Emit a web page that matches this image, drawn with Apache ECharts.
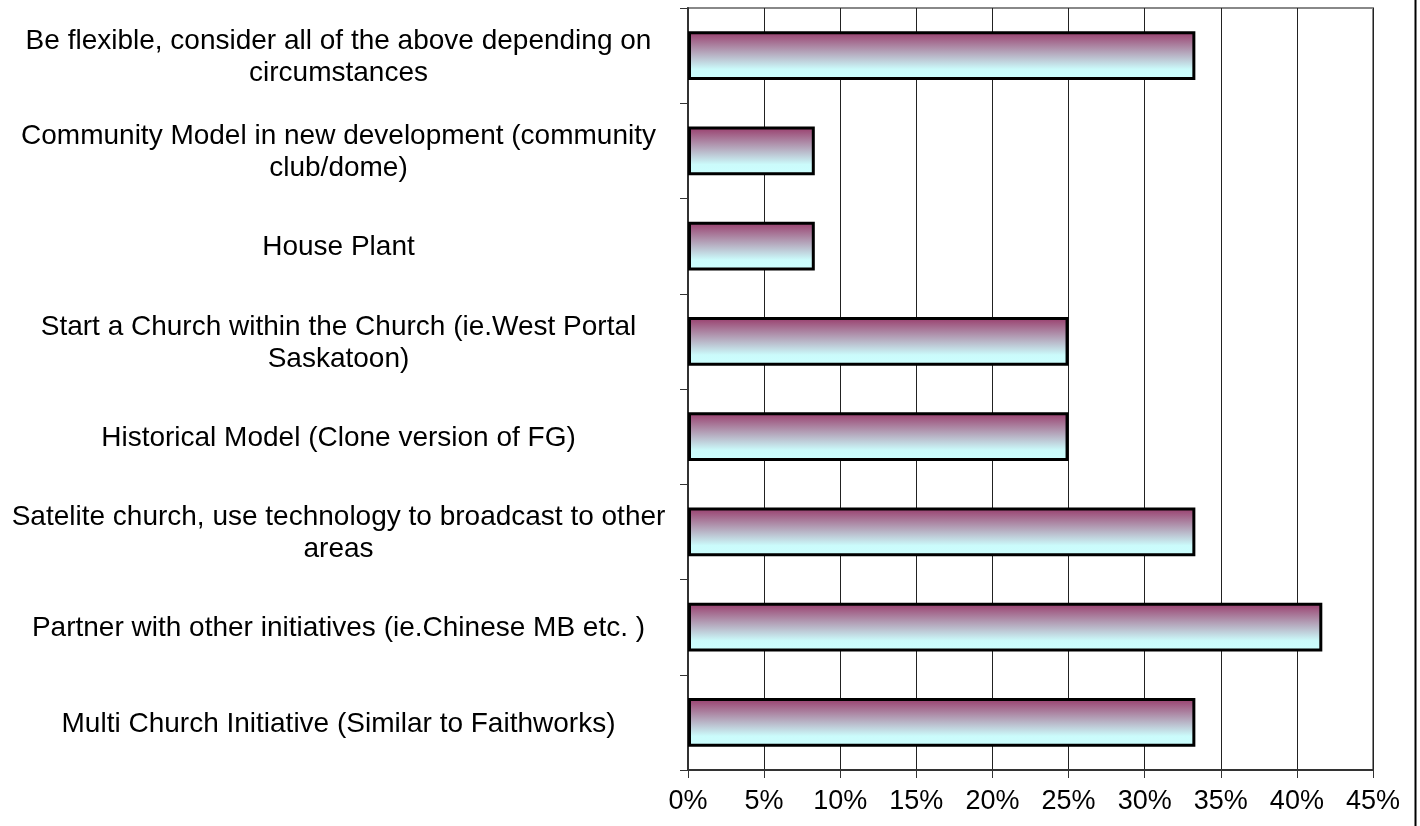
<!DOCTYPE html>
<html>
<head>
<meta charset="utf-8">
<script src="https://cdn.jsdelivr.net/npm/echarts@6/dist/echarts.min.js"></script>
<style>
html,body{margin:0;padding:0;background:#fff;}
#c{width:1420px;height:826px;}
</style>
</head>
<body>
<div id="c"></div>
<script>
const categories = [
  "Be flexible, consider all of the above depending on\ncircumstances",
  "Community Model in new development (community\nclub/dome)",
  "House Plant",
  "Start a Church within the Church (ie.West Portal\nSaskatoon)",
  "Historical Model (Clone version of FG)",
  "Satelite church, use technology to broadcast to other\nareas",
  "Partner with other initiatives (ie.Chinese MB etc. )",
  "Multi Church Initiative (Similar to Faithworks)"
];
const values = [33.33, 8.33, 8.33, 25, 25, 33.33, 41.67, 33.33];
const xTicks = { min: 0, max: 45, interval: 5 };

const FONT = 'Liberation Sans, Arial, sans-serif';
const chart = echarts.init(document.getElementById('c'), null, {renderer: 'canvas'});
chart.setOption({
  animation: false,
  backgroundColor: '#fff',
  graphic: [{
    type: 'line', shape: { x1: 1415.5, y1: 0, x2: 1415.5, y2: 826 },
    style: { stroke: '#000', lineWidth: 2 }, silent: true
  }],
  grid: { left: 688, right: 47, top: 8, bottom: 56, outerBoundsMode: 'none', containLabel: false,
          show: true, borderColor: '#888', borderWidth: 2, backgroundColor: 'transparent' },
  xAxis: {
    type: 'value', min: xTicks.min, max: xTicks.max, interval: xTicks.interval,
    axisLine: { show: true, lineStyle: { color: '#333', width: 2 } },
    axisTick: { show: true, length: 8, lineStyle: { color: '#333', width: 1 } },
    splitLine: { show: true, lineStyle: { color: '#222', width: 1 } },
    axisLabel: { formatter: v => v + '%', fontFamily: FONT, fontSize: 27, color: '#000', margin: 18 }
  },
  yAxis: {
    type: 'category', data: categories, inverse: true,
    axisLine: { show: true, lineStyle: { color: '#333', width: 2 } },
    axisTick: { show: true, length: 8, lineStyle: { color: '#333', width: 1 } },
    splitLine: { show: false },
    axisLabel: {
      margin: 21, align: 'right',
      formatter: v => v.split('\n').map(s => '{a|' + s + '}').join('\n'),
      rich: { a: { fontFamily: FONT, fontSize: 28, color: '#000', lineHeight: 32, width: 657, align: 'center', padding: [3, 0, 0, 0] } }
    }
  },
  series: [{
    type: 'bar', data: values, barWidth: '51%',
    itemStyle: {
      color: new echarts.graphic.LinearGradient(0, 0, 0, 1, [
        { offset: 0, color: '#983a6a' },
        { offset: 0.78, color: '#cbfbfb' },
        { offset: 1, color: '#ccffff' }
      ]),
      borderColor: '#000', borderWidth: 3
    }
  }]
});
</script>
</body>
</html>
